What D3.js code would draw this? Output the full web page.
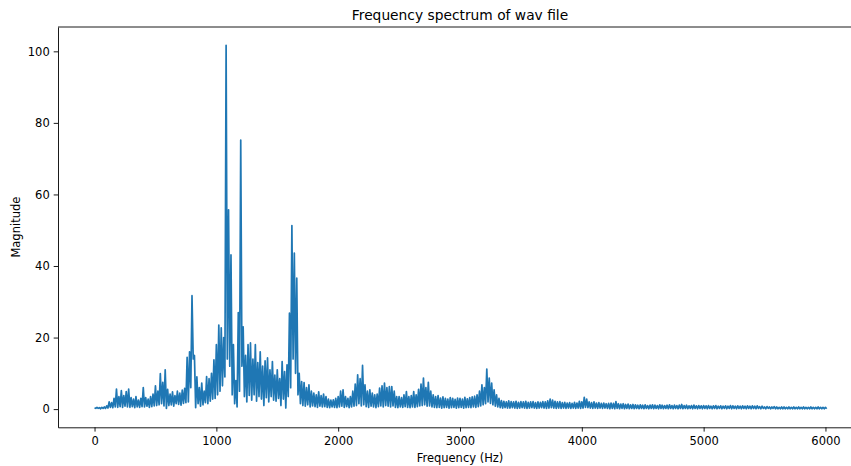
<!DOCTYPE html>
<html>
<head>
<meta charset="utf-8">
<script src="https://cdn.jsdelivr.net/npm/d3@7"></script>
<style>
  body { margin: 0; background: #fff; overflow: hidden; }
  svg { display: block; font-family: "DejaVu Sans", sans-serif; }
</style>
</head>
<body>
<div class="graph"></div>
<script>
//spectrum: one bin every 20 Hz, top and bottom of the band
const binStep = 20;
const peakMag = [
  0.4, 0.5, 0.4, 0.5, 0.6, 0.9, 2.0, 1.8, 3.0, 5.6,
  3.5, 5.2, 3.8, 4.9, 5.6, 3.2, 2.8, 3.5, 2.5, 3.0,
  6.0, 3.2, 2.8, 3.5, 4.2, 6.5, 5.0, 9.9, 7.5, 11.0,
  5.5, 4.2, 4.8, 3.8, 5.0, 4.5, 5.3, 5.8, 14.5, 16.0,
  31.7, 15.0, 9.0, 6.0, 7.3, 5.0, 9.1, 8.5, 10.0, 13.8,
  18.0, 23.5, 22.7, 20.0, 101.7, 55.7, 43.1, 18.0, 8.0, 27.0,
  75.2, 23.0, 15.0, 18.0, 18.5, 14.0, 18.0, 13.0, 16.0, 12.0,
  13.5, 14.3, 11.0, 13.3, 9.5, 11.0, 8.5, 13.3, 10.5, 12.4,
  26.8, 51.3, 43.6, 36.6, 10.0, 7.7, 7.4, 6.0, 6.8, 5.0,
  4.5, 4.0, 4.8, 3.8, 4.2, 3.5, 2.8, 2.5, 2.6, 3.0,
  3.5, 5.0, 5.4, 3.5, 3.0, 3.5, 5.0, 7.0, 9.6, 8.5,
  12.2, 6.8, 5.0, 5.4, 4.5, 4.0, 4.2, 5.9, 6.5, 7.3,
  6.0, 6.3, 6.3, 5.0, 3.5, 3.5, 3.2, 4.0, 4.9, 3.5,
  3.8, 4.9, 4.0, 5.5, 7.0, 8.7, 6.0, 7.5, 5.0, 4.0,
  3.5, 3.8, 3.1, 3.4, 3.0, 2.8, 3.2, 3.0, 2.7, 3.1,
  3.0, 2.8, 3.3, 2.9, 3.2, 3.4, 3.6, 4.0, 5.0, 6.8,
  6.0, 11.2, 8.7, 7.3, 5.4, 4.0, 3.0, 2.4, 2.2, 2.0,
  2.3, 2.1, 2.0, 2.2, 1.9, 2.1, 2.0, 2.2, 1.9, 2.0,
  2.1, 1.8, 2.0, 1.9, 2.1, 2.0, 2.3, 2.8, 2.5, 2.2,
  2.0, 2.1, 1.8, 1.9, 1.7, 1.8, 1.6, 1.9, 1.7, 2.2,
  2.0, 3.3, 2.8, 2.0, 1.8, 2.0, 1.7, 1.8, 1.6, 1.7,
  1.5, 1.6, 1.7, 1.6, 2.1, 1.5, 1.4, 1.5, 1.3, 1.4,
  1.2, 1.3, 1.2, 1.1, 1.2, 1.1, 1.2, 1.0, 1.1, 1.2,
  1.1, 1.0, 1.2, 1.1, 1.0, 1.1, 1.2, 1.0, 1.1, 1.0,
  1.1, 1.3, 1.0, 1.1, 0.9, 1.0, 1.1, 0.9, 1.0, 0.9,
  1.0, 0.9, 1.0, 0.8, 0.9, 1.0, 0.8, 0.9, 0.8, 0.9,
  0.8, 1.0, 0.9, 0.8, 0.9, 0.8, 0.9, 0.8, 0.9, 0.8,
  0.9, 0.8, 0.9, 0.7, 0.8, 0.6, 0.7, 0.6, 0.6, 0.7,
  0.6, 0.5, 0.6, 0.6, 0.5, 0.6, 0.5, 0.6, 0.5, 0.6,
  0.5, 0.6, 0.5, 0.5, 0.6, 0.5, 0.5, 0.6, 0.5, 0.5,
  0.5
];
const troughMag = [
  0.2, 0.2, 0.1, 0.2, 0.2, 0.3, 0.5, 0.4, 0.6, 0.5,
  0.7, 0.5, 0.8, 0.6, 0.5, 0.7, 0.4, 0.6, 0.5, 0.7,
  0.6, 0.8, 0.5, 0.7, 0.9, 1.0, 1.2, 1.5, 0.9, 0.2,
  1.0, 1.2, 0.8, 1.5, 1.3, 1.1, 1.6, 1.8, 2.0, 6.0,
  14.0, 0.4, 1.5, 0.8, 1.2, 1.8, 1.5, 2.2, 2.8, 3.0,
  4.0, 5.0, 6.5, 9.0, 14.0, 12.0, 4.0, 1.5, 0.6, 5.0,
  12.0, 3.5, 2.0, 3.8, 2.5, 4.0, 2.2, 3.5, 2.8, 1.0,
  3.2, 2.0, 3.5, 2.5, 2.2, 3.0, 1.0, 2.8, 0.3, 3.5,
  6.0, 14.0, 10.0, 4.0, 1.5, 1.0, 0.8, 1.2, 0.6, 0.9,
  0.7, 0.5, 0.8, 0.6, 0.7, 0.5, 0.4, 0.6, 0.5, 0.4,
  0.6, 0.8, 0.5, 0.7, 0.4, 0.6, 0.8, 1.0, 1.5, 0.9,
  1.2, 0.7, 0.5, 0.8, 0.6, 0.4, 0.7, 0.9, 0.6, 1.0,
  0.8, 0.6, 0.9, 0.5, 0.4, 0.6, 0.5, 0.7, 0.5, 0.4,
  0.6, 0.5, 0.7, 0.9, 1.0, 1.2, 0.8, 0.9, 0.6, 0.5,
  0.4, 0.5, 0.3, 0.4, 0.5, 0.3, 0.4, 0.5, 0.3, 0.4,
  0.5, 0.3, 0.4, 0.5, 0.4, 0.6, 0.5, 0.7, 0.9, 1.2,
  1.5, 2.0, 1.6, 1.2, 0.8, 0.6, 0.4, 0.3, 0.4, 0.3,
  0.3, 0.4, 0.3, 0.2, 0.3, 0.4, 0.3, 0.2, 0.3, 0.4,
  0.3, 0.2, 0.3, 0.4, 0.3, 0.2, 0.3, 0.4, 0.3, 0.2,
  0.3, 0.2, 0.3, 0.2, 0.3, 0.2, 0.3, 0.2, 0.3, 0.2,
  0.3, 0.5, 0.4, 0.3, 0.2, 0.3, 0.2, 0.3, 0.2, 0.3,
  0.2, 0.1, 0.2, 0.1, 0.2, 0.1, 0.2, 0.1, 0.2, 0.1,
  0.2, 0.1, 0.2, 0.1, 0.2, 0.1, 0.2, 0.1, 0.2, 0.1,
  0.2, 0.1, 0.2, 0.1, 0.2, 0.1, 0.2, 0.1, 0.2, 0.1,
  0.2, 0.1, 0.2, 0.1, 0.2, 0.1, 0.2, 0.1, 0.2, 0.1,
  0.2, 0.1, 0.2, 0.1, 0.2, 0.1, 0.2, 0.1, 0.2, 0.1,
  0.2, 0.1, 0.2, 0.1, 0.2, 0.1, 0.2, 0.1, 0.2, 0.1,
  0.2, 0.1, 0.2, 0.1, 0.2, 0.1, 0.2, 0.1, 0.2, 0.1,
  0.1, 0.1, 0.1, 0.1, 0.1, 0.1, 0.1, 0.1, 0.1, 0.1,
  0.1, 0.1, 0.1, 0.1, 0.1, 0.1, 0.1, 0.1, 0.1, 0.1,
  0.1
];
const xTicks = [0, 1000, 2000, 3000, 4000, 5000, 6000];
const yTicks = [0, 20, 40, 60, 80, 100];

//zigzag between top and bottom of each bin so the band fills like the dense fft line
let arr = [];
for (let i = 0; i < peakMag.length; i++) {
  arr.push([i * binStep, peakMag[i]]);
  arr.push([i * binStep + binStep / 2, troughMag[i]]);
}

const width = 851;
const height = 466;
//axes box, the right edge falls just outside the picture
const boxLeft = 58, boxRight = 862, boxTop = 27, boxBottom = 427.3;
const fontSize = "11.5px";

const svg = d3.select(".graph")
  .append("svg")
  .attr("width", width)
  .attr("height", height);

const scaleX = d3.scaleLinear()
  .domain([-300, 6300])
  .range([boxLeft, boxRight]);

const scaleY = d3.scaleLinear()
  .domain([-5.085, 106.8])
  .range([boxBottom, boxTop]);

//drawing line
svg.append("path")
  .datum(arr)
  .attr("fill", "none")
  .attr("stroke", "#1f77b4")
  .attr("stroke-width", 1.7)
  .attr("stroke-linejoin", "round")
  .attr("d", d3.line()
    .x((d) => scaleX(d[0]))
    .y((d) => scaleY(d[1])));

//axes
const xAxis = d3.axisBottom(scaleX)
  .tickValues(xTicks)
  .tickFormat(d3.format("d"))
  .tickSize(4.3)
  .tickPadding(5)
  .tickSizeOuter(0);

const gx = svg.append("g")
  .attr("transform", `translate(0, ${boxBottom})`)
  .style("font", `${fontSize} 'DejaVu Sans'`)
  .call(xAxis);

const yAxis = d3.axisLeft(scaleY)
  .tickValues(yTicks)
  .tickFormat(d3.format("d"))
  .tickSize(4.3)
  .tickPadding(4)
  .tickSizeOuter(0);

const gy = svg.append("g")
  .attr("transform", `translate(${boxLeft}, 0)`)
  .style("font", `${fontSize} 'DejaVu Sans'`)
  .call(yAxis);

[gx, gy].forEach((g) => {
  g.select(".domain").attr("stroke", "#000").attr("stroke-width", 0.9);
  g.selectAll(".tick line").attr("stroke", "#000").attr("stroke-width", 0.9);
  g.selectAll(".tick text").attr("fill", "#000");
});

//top and right spines
svg.append("line")
  .attr("x1", boxLeft).attr("x2", boxRight)
  .attr("y1", boxTop).attr("y2", boxTop)
  .attr("stroke", "#000").attr("stroke-width", 0.9);
svg.append("line")
  .attr("x1", boxRight).attr("x2", boxRight)
  .attr("y1", boxTop).attr("y2", boxBottom)
  .attr("stroke", "#000").attr("stroke-width", 0.9);

//labels
svg.append("text")
  .attr("x", (boxLeft + boxRight) / 2)
  .attr("y", 20)
  .attr("text-anchor", "middle")
  .style("font-size", "13.8px")
  .text("Frequency spectrum of wav file");

svg.append("text")
  .attr("x", (boxLeft + boxRight) / 2)
  .attr("y", 462)
  .attr("text-anchor", "middle")
  .style("font-size", fontSize)
  .text("Frequency (Hz)");

svg.append("text")
  .attr("transform", `translate(20, ${(boxTop + boxBottom) / 2}) rotate(-90)`)
  .attr("text-anchor", "middle")
  .style("font-size", fontSize)
  .text("Magnitude");
</script>
</body>
</html>
